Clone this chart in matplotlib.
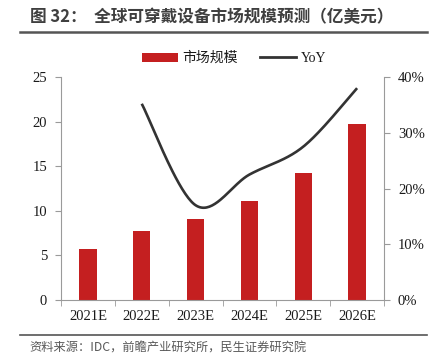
import numpy as np
import matplotlib
matplotlib.use("Agg")
import matplotlib.pyplot as plt
from matplotlib.lines import Line2D
from matplotlib.patches import Patch

plt.rcParams['font.family'] = ['Liberation Serif', 'Noto Sans CJK SC']

categories = ["2021E", "2022E", "2023E", "2024E", "2025E", "2026E"]
market_size = [5.7, 7.7, 9.1, 11.1, 14.2, 19.7]
yoy_categories = ["2022E", "2023E", "2024E", "2025E", "2026E"]
yoy = [35.2, 17.0, 22.5, 27.5, 38.0]
left_ticks = [0, 5, 10, 15, 20, 25]
right_ticks = [0, 10, 20, 30, 40]

BAR_RED = "#C41F20"
LINE_DARK = "#333333"
SPINE = "#9a9a9a"
TEXT = "#1a1a1a"

fig = plt.figure(figsize=(4.36, 3.61), dpi=100)
W, H = 436, 361
ax = fig.add_axes([61 / W, 1 - 300 / H, (384 - 61) / W, (300 - 77) / H])
ax2 = ax.twinx()

x = np.arange(len(categories))
ax.bar(x, market_size, width=0.32, color=BAR_RED, zorder=2)
ax.set_xlim(-0.5, len(categories) - 0.5)
ax.set_ylim(0, 25)
ax.set_yticks(left_ticks)
ax.set_yticklabels([str(t) for t in left_ticks], fontsize=10.5, color=TEXT)
ax.set_xticks(x)
ax.set_xticklabels(categories, fontsize=10.5, color=TEXT)
ax.set_xticks(np.arange(-0.5, len(categories), 1.0), minor=True)
ax.tick_params(axis='x', which='major', length=0, pad=7)
ax.tick_params(axis='x', which='minor', length=4, color=SPINE, direction='out')
ax.tick_params(axis='y', length=4, color=SPINE, pad=6)

# smoothed YoY line (Catmull-Rom Bezier, Excel-like)
yx = np.array([categories.index(c) for c in yoy_categories], dtype=float)
yy = np.array(yoy, dtype=float)
P = np.column_stack([yx, yy])
pts = []
n = len(P)
t = np.linspace(0, 1, 40)
for i in range(n - 1):
    p0 = P[i - 1] if i > 0 else P[i]
    p1 = P[i]
    p2 = P[i + 1]
    p3 = P[i + 2] if i + 2 < n else P[i + 1]
    c1 = p1 + (p2 - p0) / 6
    c2 = p2 - (p3 - p1) / 6
    seg = ((1 - t)[:, None] ** 3) * p1 + 3 * ((1 - t) ** 2 * t)[:, None] * c1 \
        + 3 * ((1 - t) * t ** 2)[:, None] * c2 + (t ** 3)[:, None] * p2
    pts.append(seg if i == 0 else seg[1:])
pts = np.vstack(pts)
ax2.plot(pts[:, 0], pts[:, 1], color=LINE_DARK, lw=1.9, zorder=3, solid_capstyle='butt')
ax2.set_ylim(0, 40)
ax2.set_yticks(right_ticks)
ax2.set_yticklabels([f"{t}%" for t in right_ticks], fontsize=10.5, color=TEXT)
ax2.tick_params(axis='y', length=4, color=SPINE, pad=6)

for a in (ax, ax2):
    a.spines['top'].set_visible(False)
    a.spines['left'].set_color(SPINE)
    a.spines['right'].set_color(SPINE)
    a.spines['bottom'].set_color(SPINE)
ax.spines['right'].set_visible(False)
ax2.spines['left'].set_visible(False)
ax2.spines['bottom'].set_visible(False)

# legend
handles = [Patch(facecolor=BAR_RED, edgecolor='none'),
           Line2D([0], [0], color=LINE_DARK, lw=2)]
leg = fig.legend(handles, ["市场规模", "YoY"], loc='center', bbox_to_anchor=(234 / W, 1 - 58 / H),
                 ncol=2, frameon=False, fontsize=10, handlelength=2.6, handleheight=0.6,
                 columnspacing=1.6, handletextpad=0.3)
for txt in leg.get_texts():
    txt.set_color(TEXT)
leg.get_texts()[0].set_fontfamily(['Noto Sans CJK SC'])
leg.get_texts()[0].set_fontweight('light')

# title and rules
fig.text(30 / W, 1 - 17 / H, "图 32：  全球可穿戴设备市场规模预测（亿美元）", fontsize=12,
         fontweight='bold', color="#3f3f3f", family=['Noto Sans CJK SC'], va='center', ha='left')
fig.add_artist(Line2D([20 / W, 427 / W], [1 - 32 / H, 1 - 32 / H], color="#555555", lw=1.8))
fig.add_artist(Line2D([20 / W, 427 / W], [1 - 335 / H, 1 - 335 / H], color="#555555", lw=1.2))
fig.text(29 / W, 1 - 348 / H, "资料来源：IDC，前瞻产业研究所，民生证券研究院", fontsize=8.8,
         color="#595959", family=['Noto Sans CJK SC'], va='center', ha='left')

fig.savefig("out.png", dpi=100)
